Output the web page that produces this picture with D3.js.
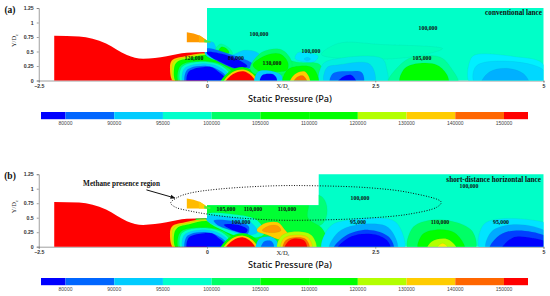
<!DOCTYPE html>
<html><head><meta charset="utf-8">
<script src="https://cdn.jsdelivr.net/npm/d3@7"></script>
<style>html,body{margin:0;padding:0;background:#fff}svg{display:block}</style></head>
<body><svg id="c" width="550" height="296"></svg>
<script>
// ---- legend ----
const legendTicks = [80000,90000,95000,100000,105000,110000,120000,130000,140000,150000];
const legendColors = ["#0000ff","#0066ff","#00ccff","#00ffcc","#00ff66","#00ff00","#00ff00","#b3ff00","#ffcc00","#ff6600","#ff0000"];
const xTicks = [-2.5,0,2.5,5];
const yTicks = [0,0.25,0.5,0.75,1,1.25];
// ---- geometry (X/De, Y/De) ----
const ductWall = [[-2.27,.77],[-1.9,.76],[-1.5,.64],[-1.19,.44],[-.95,.375],[-.6,.42],[-.3,.48],[0,.49]];
const lanceBody = [[-.3,.83],[-.2,.81],[-.1,.77],[0,.69],[0,.66],[-.3,.66]];
const lanceTip = [[-.12,.78],[-.05,.73],[0,.69],[0,.66],[-.12,.66]];
const lanceEnd = [[-.04,.71],[0,.69],[.05,.68],[.05,.65],[-.04,.66]];
const fieldA = [[0,1.25],[5,1.25],[5,0],[0,0]];
const fieldB = [[0,.714],[1.66,.714],[1.66,1.25],[5,1.25],[5,0],[0,0]];
// shared near-throat bands
const throatYellow=[[-.48,-.05],[-.55,.21],[-.52,.35],[-.33,.42],[0,.47],[.22,.39],[.49,.18],[.64,-.05]];
const throatLime=[[-.46,-.05],[-.52,.2],[-.49,.33],[-.3,.405],[0,.46],[.24,.37],[.5,.15],[.6,-.05]];
const throatGreen=[[-.445,-.05],[-.49,.2],[-.445,.32],[-.25,.39],[0,.44],[.27,.33],[.49,.14],[.3,-.05]];
const throatMint=[[-.41,-.05],[-.42,.2],[-.35,.29],[0,.33],[.25,.26],[.4,.1],[.25,-.05]];
const throatTeal=[[-.38,-.05],[-.39,.2],[-.31,.28],[0,.32],[.22,.25],[.35,.08],[.22,-.05]];
const throatCyan=[[-.35,-.05],[-.35,.18],[-.27,.25],[0,.29],[.2,.22],[.32,.08],[.2,-.05]];
const throatMid=[[-.32,-.05],[-.31,.16],[-.24,.22],[0,.25],[.16,.19],[.28,.07],[.17,-.05]];
const throatBlue=[[-.29,-.05],[-.28,.14],[-.2,.2],[.07,.23],[.16,.16],[.26,.05],[.15,-.05]];
const hillGreen=[[.2,-.05],[.35,.17],[.54,.23],[.72,.14],[.82,-.05]];
const hillYellow=[[.24,-.05],[.37,.14],[.54,.19],[.68,.11],[.76,-.05]];
const hillRed=[[.27,-.05],[.39,.11],[.54,.16],[.66,.08],[.72,-.05]];
// panel a
const aCyan=[[-.02,.65],[.09,.66],[.16,.52],[.36,.44],[.55,.52],[.75,.48],[.85,.3],[.66,.2],[.3,.3],[-.02,.44]];
const aDiagMid=[[0,.55],[.35,.45],[.68,.28],[.55,.18],[.3,.25],[0,.47]];
const aDiagDark=[[0,.49],[.34,.42],[.6,.25],[.49,.2],[.27,.28],[0,.46]];
const aJetHalo=[[.12,.52],[.2,.63],[.33,.56],[.38,.46],[.22,.45]];
const aJetCore=[[.17,.5],[.22,.58],[.3,.54],[.33,.48],[.22,.47]];
const aBlobHalo=[[.64,.22],[.82,.49],[1.11,.53],[1.26,.32],[1.23,.15],[.94,.1],[.71,.11]];
const aBlobCore=[[.68,.27],[.89,.44],[1.08,.46],[1.2,.32],[1.19,.18],[.98,.15],[.79,.15]];
const aSmallCyan=[[.71,-.05],[.76,.15],[.97,.16],[1.11,.08],[1.11,-.05]];
const aSmallBlue=[[.79,-.05],[.82,.09],[.97,.11],[1.03,.05],[1.03,-.05]];
const aHotBroad=[[1.08,-.05],[1.11,.34],[1.38,.31],[1.68,.27],[1.72,-.05]];
const aHotGreen=[[1.13,-.05],[1.19,.18],[1.38,.25],[1.58,.21],[1.65,-.05]];
const aHotYellow=[[1.23,-.05],[1.31,.11],[1.46,.15],[1.53,-.05]];
const aHotOrange=[[1.28,-.05],[1.34,.06],[1.43,.08],[1.49,-.05]];
const aPale=[[1.31,.38],[1.35,.48],[1.5,.48],[1.65,.42],[1.6,.33],[1.45,.32]];
const aPaleCore=[[1.44,.37],[1.49,.4],[1.54,.37],[1.49,.34]];
const aTint=[[1.7,.45],[1.95,.64],[2.6,.62],[3.5,.55],[3,.4],[2,.38]];
const aBigHalo=[[1.68,-.05],[1.72,.28],[1.95,.38],[2.6,.38],[2.67,.2],[2.67,-.05]];
const aBigCyan=[[1.75,-.05],[1.78,.22],[1.95,.27],[2.39,.3],[2.48,.18],[2.48,-.05]];
const aBigMid=[[1.83,-.05],[1.87,.12],[2.1,.16],[2.3,.14],[2.32,-.05]];
const aBigDark=[[1.93,-.05],[2.03,.07],[2.15,.09],[2.22,-.05]];
const aMidOuter=[[2.69,-.05],[2.87,.27],[3.05,.4],[3.47,.4],[3.63,.21],[3.73,-.05]];
const aMidInner=[[2.87,-.05],[2.94,.21],[3.2,.3],[3.43,.26],[3.57,.09],[3.58,-.05]];
const aFarOuter=[[3.91,-.05],[3.91,.35],[3.98,.44],[4.58,.41],[4.98,.3],[5.05,-.05]];
const aFarMid=[[3.98,-.05],[4,.25],[4.5,.33],[5,.18],[5.05,-.05]];
const aFarInner=[[4.08,-.05],[4.2,.15],[4.45,.21],[4.7,.12],[4.78,-.05]];
// panel b
const bBlock=[[-.1,.85],[1.72,.85],[1.72,.4],[-.1,.4]];
const bGreen=[[-.1,.8],[1.49,.8],[1.5,.5],[1.72,.3],[1.78,-.05],[0,-.05]];
const bTeal=[[0,.56],[.45,.55],[.75,.45],[.85,.22],[.55,.15],[.2,.3],[0,.45]];
const bCyan=[[0,.52],[.4,.5],[.65,.42],[.75,.25],[.55,.2],[.3,.3],[0,.45]];
const bMid=[[.1,.45],[.4,.44],[.62,.35],[.6,.22],[.4,.27],[.15,.38]];
const bDark=[[.25,.38],[.45,.38],[.6,.3],[.58,.24],[.42,.27]];
const bHotYellow=[[.74,.28],[.85,.4],[1.05,.42],[1.15,.3],[1.22,.18],[1.1,.12],[.9,.2]];
const bHotOrange=[[.82,.28],[.92,.36],[1.05,.36],[1.1,.28],[.95,.24]];
const bRedLime=[[1.05,-.05],[1.1,.18],[1.3,.26],[1.55,.2],[1.62,-.05]];
const bRedYellow=[[1.1,-.05],[1.14,.14],[1.3,.2],[1.5,.16],[1.56,-.05]];
const bRedOrange=[[1.13,-.05],[1.17,.11],[1.3,.16],[1.47,.13],[1.52,-.05]];
const bRedCore=[[1.15,-.05],[1.2,.08],[1.3,.14],[1.45,.1],[1.48,-.05]];
const bSmallCyan=[[.73,-.05],[.78,.14],[.95,.17],[1.05,.07],[1.03,-.05]];
const bSmallBlue=[[.8,-.05],[.85,.09],[.95,.1],[.99,.04],[.98,-.05]];
const bBigOuter=[[1.71,-.05],[1.83,.35],[2.1,.46],[2.75,.46],[2.87,.32],[2.92,-.05]];
const bBigCyan=[[1.82,-.05],[1.95,.25],[2.2,.37],[2.65,.36],[2.78,.2],[2.82,-.05]];
const bBigMid=[[1.88,-.05],[2.05,.18],[2.4,.29],[2.7,.17],[2.77,-.05]];
const bBigDark=[[1.93,-.05],[2.15,.18],[2.5,.21],[2.69,.09],[2.72,-.05]];
const bMidOuter=[[2.99,-.05],[3.05,.32],[3.24,.44],[3.64,.44],[3.94,.27],[3.98,-.05]];
const bMidInner=[[3.14,-.05],[3.2,.21],[3.39,.29],[3.68,.24],[3.83,-.05]];
const bMidLime=[[3.27,-.05],[3.34,.09],[3.54,.14],[3.66,.06],[3.71,-.05]];
const bMidYellow=[[3.4,-.05],[3.5,.06],[3.6,-.05]];
const bFarOuter=[[4.06,-.05],[4.09,.35],[4.24,.46],[4.83,.46],[5.1,.35],[5.1,-.05]];
const bFarCyan=[[4.15,-.05],[4.22,.25],[4.45,.37],[4.85,.35],[5.1,.2],[5.1,-.05]];
const bFarMid=[[4.2,-.05],[4.35,.2],[4.6,.28],[5,.2],[5.1,.1],[5.1,-.05]];
const bFarDark=[[4.38,-.05],[4.55,.16],[4.83,.15],[5.1,.05],[5.1,-.05]];
const methaneRing=[[-.54,.755],[-.43,.855],[-.25,.925],[.19,.995],[1,1.05],[1.63,1.05],[2.42,1.015],[3.02,.93],[3.48,.77],[3.42,.685],[3.02,.565],[2.42,.495],[1.63,.46],[1,.46],[.27,.52],[-.25,.615],[-.476,.685]];
// ---- labels ----
const aLabels=[["100,000",259,35],["120,000",194,59],["80,000",236,59],["130,000",272,64],["100,000",311,52],["100,000",428,29],["105,000",422,59]];
const bLabels=[["105,000",226,210],["110,000",253,210],["100,000",241,223],["110,000",287,210],["100,000",360,199],["95,000",358,223],["110,000",440,223],["95,000",501,223],["100,000",469,187]];
const C={blue:"#0000ff",mid:"#0066ff",cyan:"#00ccff",pale:"#00e5ff",teal:"#00ffcc",mint:"#00ff66",green:"#00ff00",lime:"#b3ff00",yellow:"#ffcc00",orange:"#ff6600",red:"#ff0000"};
const throatLayers=[[C.yellow,throatYellow],[C.lime,throatLime],[C.green,throatGreen],[C.mint,throatMint],[C.teal,throatTeal],[C.cyan,throatCyan],[C.mid,throatMid],[C.blue,throatBlue]];
const hillLayers=[[C.green,hillGreen],[C.yellow,hillYellow],[C.red,hillRed]];
const aLayers=[["#00ffbc",aTint],[C.mint,aHotBroad],["#00f0e0",aBigHalo],[C.cyan,aBigCyan],[C.mid,aBigMid],[C.blue,aBigDark],["#00ff99",aMidOuter],[C.green,aMidInner],["#00f0ff",aFarOuter],["#00d8ff",aFarMid],["#00b0ff",aFarInner],[C.pale,aPale],[C.cyan,aPaleCore],
 ...throatLayers,[C.cyan,aCyan],["#00ff99",aJetHalo],[C.green,aJetCore],[C.mid,aDiagMid],[C.blue,aDiagDark],...hillLayers,[C.mint,aBlobHalo],[C.green,aBlobCore],[C.cyan,aSmallCyan],[C.blue,aSmallBlue],[C.green,aHotGreen],[C.yellow,aHotYellow],[C.orange,aHotOrange]];
const bLayers=[["#00ff77",bBlock],["#00ff33",bGreen],...throatLayers,[C.teal,bTeal],[C.cyan,bCyan],[C.mid,bMid],[C.blue,bDark],...hillLayers,[C.pale,bBigOuter],["#00aaff",bBigCyan],["#0040ff",bBigMid],[C.blue,bBigDark],[C.mint,bMidOuter],[C.green,bMidInner],[C.lime,bMidLime],["#ffee00",bMidYellow],[C.pale,bFarOuter],["#00aaff",bFarCyan],["#0040ff",bFarMid],[C.blue,bFarDark],[C.yellow,bHotYellow],["#ff9900",bHotOrange],[C.cyan,bSmallCyan],[C.mid,bSmallBlue],[C.lime,bRedLime],[C.yellow,bRedYellow],[C.orange,bRedOrange],[C.red,bRedCore]];

const svg=d3.select("#c");
svg.append("defs").append("filter").attr("id","soft").attr("x","-5%").attr("y","-5%").attr("width","110%").attr("height","110%").append("feGaussianBlur").attr("stdDeviation",.55);
const x=d3.scaleLinear().domain([-2.5,5]).range([38.75,543.5]);
const tickFont="'Liberation Sans',sans-serif", serif="'Liberation Serif',serif";

function panel(id,base,layers,field,fieldFill,lanceFill,labels,tag,tagY,caption,capX,capY,capSize){
  const y=d3.scaleLinear().domain([0,1.25]).range([base,base-72.5]);
  const g=svg.append("g");
  const wall=d3.area().x(d=>x(d[0])).y0(y(0)).y1(d=>y(d[1])).curve(d3.curveMonotoneX);
  const closed=d3.line().x(d=>x(d[0])).y(d=>y(d[1])).curve(d3.curveCatmullRomClosed.alpha(.5));
  const poly=d3.line().x(d=>x(d[0])).y(d=>y(d[1])).curve(d3.curveLinearClosed);
  const cp=svg.append("clipPath").attr("id","clip"+id);
  cp.append("path").attr("d",wall(ductWall));
  cp.append("path").attr("d",poly(field));
  // axes
  const ay=d3.axisLeft(y).tickValues(yTicks).tickSize(2).tickPadding(3).tickFormat(d3.format("~g"));
  const ax=d3.axisBottom(x).tickValues(xTicks).tickSize(2).tickPadding(2).tickFormat(d3.format("~g"));
  [g.append("g").attr("transform",`translate(38.75,0)`).call(ay),g.append("g").attr("transform",`translate(0,${base})`).call(ax)].forEach(a=>{
    a.selectAll("path,line").attr("stroke","#777").attr("stroke-width",.7);
    a.selectAll("text").attr("font-family",tickFont).attr("font-size",5.2).attr("font-weight","bold").attr("fill","#333");
  });
  g.append("path").attr("d",wall(ductWall)).attr("fill","#ff0000");
  g.append("path").attr("d",poly(field)).attr("fill",fieldFill);
  const L=g.append("g").attr("clip-path",`url(#clip${id})`).append("g").attr("filter","url(#soft)");
  L.selectAll("path").data(layers).join("path").attr("d",d=>closed(d[1])).attr("fill",d=>d[0]).attr("stroke","#006060").attr("stroke-opacity",.12).attr("stroke-width",.5);
  g.append("path").attr("d",poly(lanceBody)).attr("fill",lanceFill[0]);
  g.append("path").attr("d",poly(lanceTip)).attr("fill",lanceFill[1]);
  g.append("path").attr("d",poly(lanceEnd)).attr("fill","#44ee44");
  g.selectAll(".lab").data(labels).join("text").attr("x",d=>d[1]).attr("y",d=>d[2]).attr("text-anchor","middle").attr("dominant-baseline","middle").attr("font-family",serif).attr("font-weight","bold").attr("font-size",5.8).attr("fill","#111").text(d=>d[0]);
  g.append("text").attr("x",10).attr("y",tagY).attr("text-anchor","middle").attr("dominant-baseline","middle").attr("font-family",serif).attr("font-weight","bold").attr("font-size",9.5).attr("fill","#111").text(tag);
  g.append("text").attr("x",capX).attr("y",capY).attr("text-anchor","end").attr("dominant-baseline","middle").attr("font-family",serif).attr("font-weight","bold").attr("font-size",capSize).attr("fill","#111").text(caption);
  // axis titles
  const xt=g.append("text").attr("x",283).attr("y",base+6.5).attr("text-anchor","middle").attr("dominant-baseline","middle").attr("font-family",serif).attr("font-size",6.5).attr("fill","#222").text("X/D");
  xt.append("tspan").attr("font-size",4.5).attr("dy",1.5).text("e");
  const yt=g.append("text").attr("transform",`translate(15,${base-40}) rotate(-90)`).attr("text-anchor","middle").attr("dominant-baseline","middle").attr("font-family",serif).attr("font-size",6.5).attr("fill","#222").text("Y/D");
  yt.append("tspan").attr("font-size",4.5).attr("dy",1.5).text("e");
  return y;
}
function legend(titleY,barY){
  svg.append("text").attr("x",290).attr("y",titleY).attr("text-anchor","middle").attr("dominant-baseline","middle").attr("font-family","'Noto Sans',sans-serif").attr("font-weight",500).attr("font-size",9.2).attr("fill","#111").text("Static Pressure (Pa)");
  const lx=d3.scalePoint().domain(legendTicks).range([65.5,504]);
  const edges=[65.5-24.5,...legendTicks.map(t=>lx(t)),528];
  svg.append("g").selectAll("rect").data(legendColors).join("rect").attr("x",(d,i)=>edges[i]).attr("width",(d,i)=>edges[i+1]-edges[i]).attr("y",barY).attr("height",7.2).attr("fill",d=>d);
  svg.append("g").selectAll("text").data(legendTicks).join("text").attr("x",d=>lx(d)).attr("y",barY+11.5).attr("text-anchor","middle").attr("dominant-baseline","middle").attr("font-family",tickFont).attr("font-size",5).attr("fill","#444").text(d=>d);
}
panel("a",80.5,aLayers,fieldA,"#00ffc8",["#ff9900","#ffb000"],aLabels,"(a)",10.5,"conventional lance",542,13,7.2);
legend(100,112);
const yb=panel("b",246.7,bLayers,fieldB,"#00ffc8",["#ffbb00","#ffcc00"],bLabels,"(b)",176.5,"short-distance horizontal lance",541,180,7.2);
legend(266,278);
// methane ring + annotation
const ring=d3.line().x(d=>x(d[0])).y(d=>yb(d[1])).curve(d3.curveCatmullRomClosed.alpha(.5));
svg.append("path").attr("d",ring(methaneRing)).attr("fill","none").attr("stroke","#111").attr("stroke-width",1).attr("stroke-dasharray","1 1.6");
svg.append("text").attr("x",121.5).attr("y",184.6).attr("text-anchor","middle").attr("dominant-baseline","middle").attr("font-family",serif).attr("font-weight","bold").attr("font-size",7.2).attr("fill","#111").text("Methane presence region");
svg.select("defs").append("marker").attr("id","ah").attr("viewBox","0 0 6 6").attr("refX",5).attr("refY",3).attr("markerWidth",5).attr("markerHeight",5).attr("orient","auto").append("path").attr("d","M0 .5L6 3L0 5.5z").attr("fill","#111");
const arrowStart=[-.9,.98], arrowEnd=[-.48,.84];
svg.append("line").attr("x1",x(arrowStart[0])).attr("y1",yb(arrowStart[1])).attr("x2",x(arrowEnd[0])).attr("y2",yb(arrowEnd[1])).attr("stroke","#111").attr("stroke-width",1).attr("marker-end","url(#ah)");
</script></body></html>
